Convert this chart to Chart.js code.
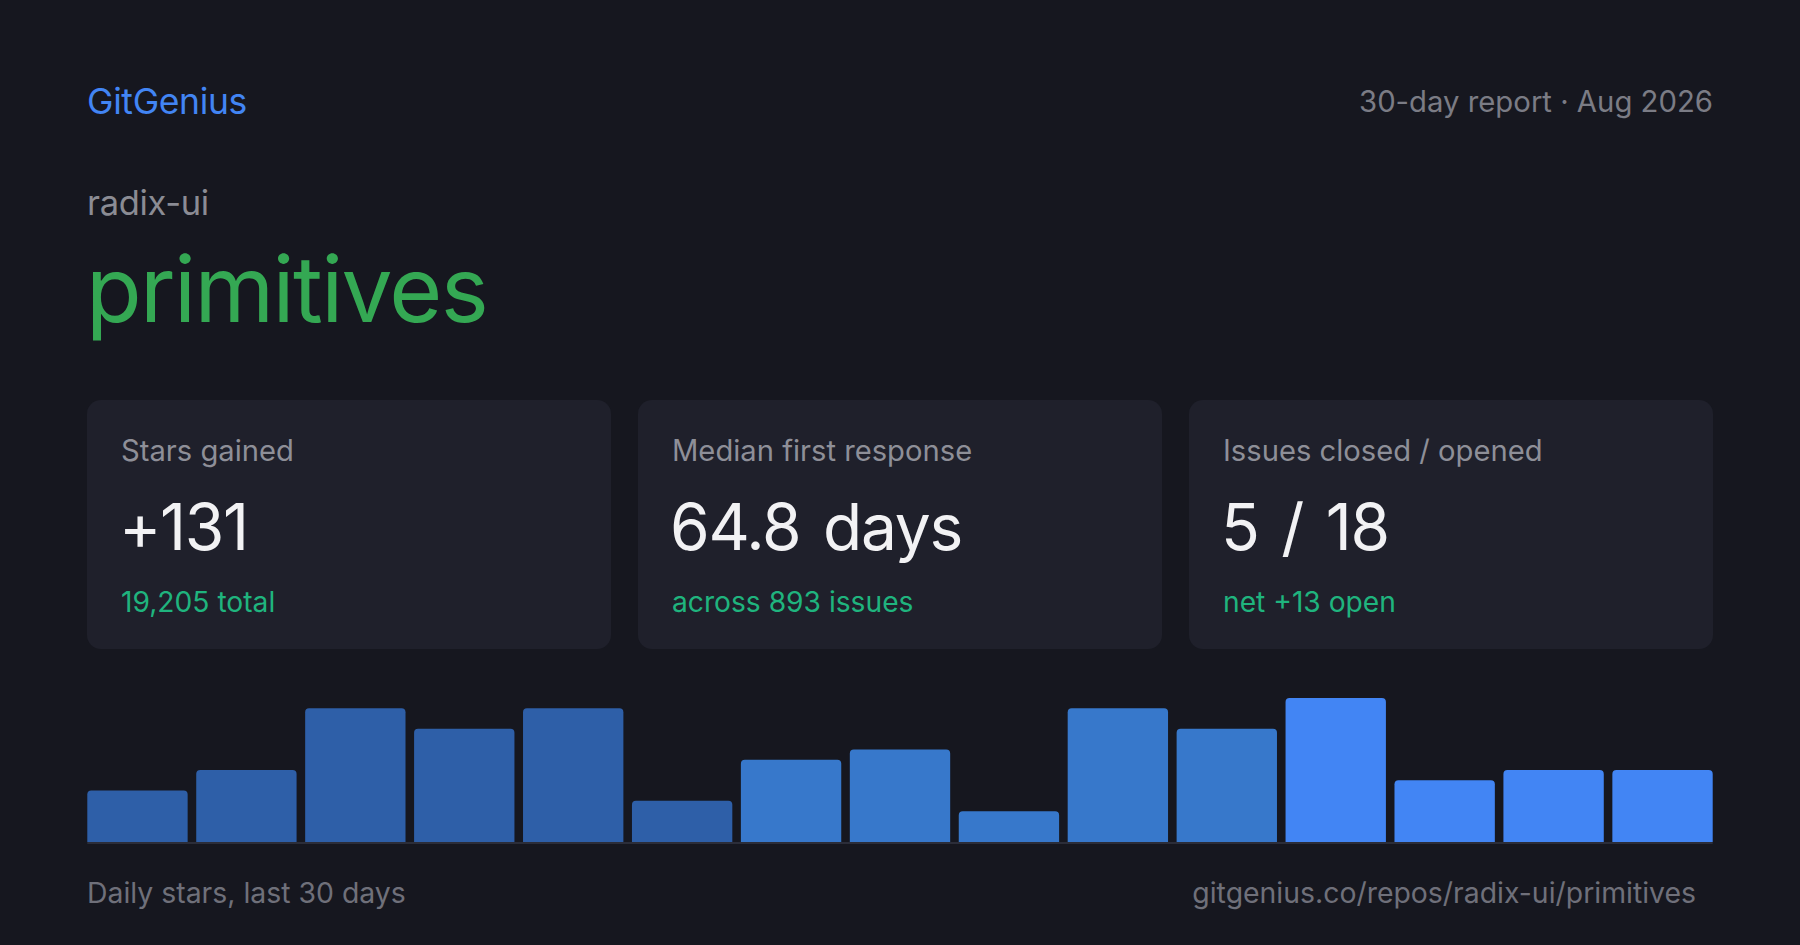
<!DOCTYPE html>
<html>
<head>
<meta charset="utf-8">
<script src="https://cdn.jsdelivr.net/npm/chart.js@4.4.1/dist/chart.umd.min.js"></script>
<style>
  html, body { margin: 0; padding: 0; }
  body {
    width: 1800px; height: 945px; background: #16171f; position: relative; overflow: hidden;
    font-family: Inter, "Noto Sans", sans-serif;
  }
  .t { position: absolute; white-space: nowrap; line-height: 1; }
  .brand { left: 87px; top: 84px; font-size: 35.5px; color: #4285f4; letter-spacing: -0.01em; }
  .date { right: 87px; top: 87px; font-size: 29.3px; color: #7b7c85; }
  .owner { left: 87px; top: 186px; font-size: 34.5px; color: #8b8c94; letter-spacing: -0.01em; }
  .repo { left: 86px; top: 244px; font-size: 91px; color: #34a853; letter-spacing: -0.018em; }
  .card { position: absolute; top: 400px; width: 524px; height: 249px; background: #1f202b; border-radius: 14px; }
  .card .lbl { position: absolute; left: 34px; top: 36px; font-size: 29.2px; color: #8e8f98; line-height: 1; white-space: nowrap; }
  .card .val { position: absolute; left: 32px; top: 95px; font-size: 64px; color: #f2f2f4; line-height: 1; white-space: nowrap; letter-spacing: -0.02em; word-spacing: 6px; }
  .card .sub { position: absolute; left: 34px; top: 188px; font-size: 28.2px; color: #1fb47e; line-height: 1; white-space: nowrap; }
  #bars { position: absolute; left: 83px; top: 690px; }
  .foot { top: 879px; font-size: 28.4px; color: #6f707a; }
</style>
</head>
<body>
<div class="t brand">GitGenius</div>
<div class="t date">30-day report · Aug 2026</div>
<div class="t owner">radix-ui</div>
<div class="t repo">primitives</div>

<div class="card" style="left:87px"><div class="lbl">Stars gained</div><div class="val">+131</div><div class="sub">19,205 total</div></div>
<div class="card" style="left:638px"><div class="lbl">Median first response</div><div class="val">64.8 days</div><div class="sub">across 893 issues</div></div>
<div class="card" style="left:1189px"><div class="lbl">Issues closed / opened</div><div class="val">5 / 18</div><div class="sub">net +13 open</div></div>

<canvas id="bars" width="1634" height="160"></canvas>

<div class="t foot" style="left:87px">Daily stars, last 30 days</div>
<div class="t foot" style="right:104px">gitgenius.co/repos/radix-ui/primitives</div>

<script>
// ---- data ----
const dayBuckets = ["1–2","3–4","5–6","7–8","9–10","11–12","13–14","15–16","17–18","19–20","21–22","23–24","25–26","27–28","29–30"];
const dailyStars = [5, 7, 13, 11, 13, 4, 8, 9, 3, 13, 11, 14, 6, 7, 7];

// ---- style ----
const shadeDark = "#2e5fa8", shadeMid = "#3778cb", shadeBright = "#4285f4";
const barColors = dailyStars.map((_, i) => i < 6 ? shadeDark : (i < 11 ? shadeMid : shadeBright));

const baselinePlugin = {
  id: "baseline",
  afterDatasetsDraw(chart) {
    const { ctx } = chart;
    const bars = chart.getDatasetMeta(0).data;
    const first = bars[0], last = bars[bars.length - 1];
    const x0 = first.x - first.width / 2, x1 = last.x + last.width / 2;
    const y = chart.scales.y.getPixelForValue(0);
    ctx.save();
    ctx.fillStyle = "#2b2d39";
    ctx.fillRect(x0, y, x1 - x0, 2);
    ctx.restore();
  }
};

new Chart(document.getElementById("bars"), {
  type: "bar",
  data: {
    labels: dayBuckets,
    datasets: [{
      data: dailyStars,
      backgroundColor: barColors,
      borderRadius: 4,
      borderSkipped: "start",
      categoryPercentage: 1,
      barPercentage: 0.9213
    }]
  },
  options: {
    responsive: false,
    animation: false,
    layout: { padding: { top: 8, bottom: 8, left: 0, right: 0 } },
    plugins: { legend: { display: false }, tooltip: { enabled: false } },
    scales: {
      x: { display: false },
      y: { display: false, min: 0, max: Math.max(...dailyStars) }
    }
  },
  plugins: [baselinePlugin]
});
</script>
</body>
</html>
